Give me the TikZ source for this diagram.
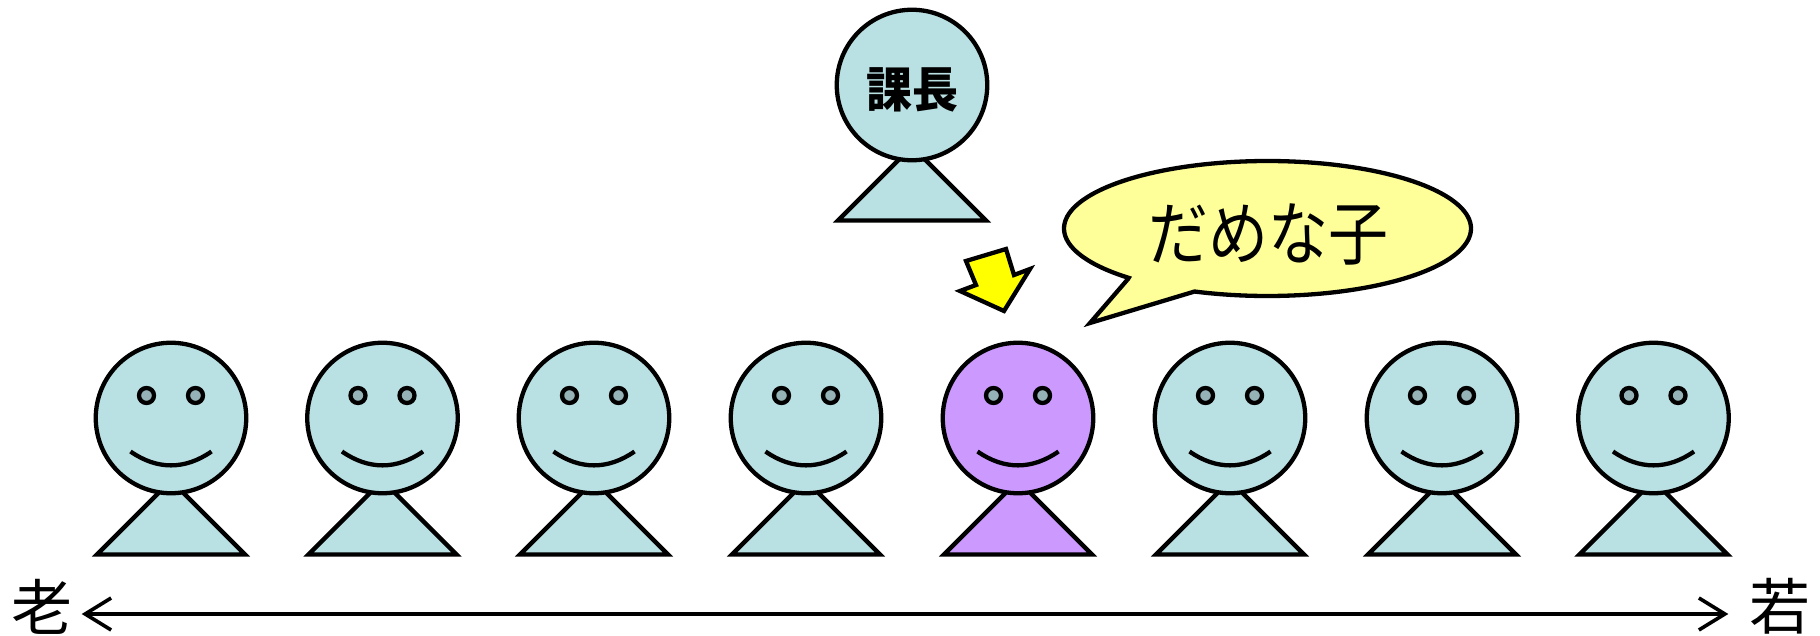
\documentclass[tikz,border=0pt]{standalone}
\usepackage{fontspec}
\setmainfont{Noto Sans CJK JP}[BoldFont={Noto Sans CJK JP Black}]
\usetikzlibrary{arrows.meta}
\definecolor{skin}{HTML}{B9E0E3}
\definecolor{skindark}{HTML}{95B3B6}
\definecolor{lila}{HTML}{CC99FF}
\definecolor{balloon}{HTML}{FFFF99}
\definecolor{pointer}{HTML}{FFFF00}
\tikzset{
  ink/.style={draw=black,line width=4.3pt,line join=miter},
  headshape/.style={ink,circle,minimum size=150.5pt,inner sep=0pt,outer sep=0pt},
  eyeshape/.style={ink,circle,minimum size=15pt,inner sep=0pt,fill=skindark},
  bigtext/.style={font=\fontsize{61}{61}\selectfont,inner sep=0pt},
  timeline/.style={draw=black,line width=3.6pt,{Straight Barb[length=26pt,width=32pt,line width=3.6pt]}-{Straight Barb[length=26pt,width=32pt,line width=3.6pt]}},
}
\begin{document}
\begin{tikzpicture}[x=1pt,y=-1pt]
\useasboundingbox (0,0) rectangle (1820,636);
% row of staff
\foreach \n/\cx/\col in {1/171/skin,2/382.5/skin,3/594/skin,4/806/skin,5/1018/lila,6/1230/skin,7/1442/skin,8/1653.5/skin}{
  \path[ink,fill=\col] (\cx-74,554.5) -- (\cx,480.5) -- (\cx+74,554.5) -- cycle;
  \node[headshape,fill=\col] (head\n) at (\cx,418) {};
  \node[eyeshape] (eyel\n) at (\cx-24.5,395.5) {};
  \node[eyeshape] (eyer\n) at (\cx+24.5,395.5) {};
  \draw[black,line width=4.3pt] (\cx-40.5,451.5) .. controls (\cx-14,470) and (\cx+14,470) .. (\cx+40.5,451.5);
}
% section chief
\path[ink,fill=skin] (838,220.5) -- (912,146.5) -- (986,220.5) -- cycle;
\node[headshape,fill=skin] (boss) at (912,85) {};
\node[font=\bfseries\fontsize{46}{46}\selectfont,inner sep=0pt] (bosstext) at (912,90) {\scalebox{1}[1.05]{課長}};
% pointer arrow
\path[ink,fill=pointer] (966,261) -- (1006,249) -- (1014,275) -- (1030,269) -- (1004,311) -- (960,291) -- (976,285) -- cycle;
% speech bubble
\path[ink,fill=balloon] (1090,323) -- (1128,279)
  -- plot[domain=133:471,samples=160,variable=\t] ({1267.5+203.5*cos(\t)},{228.5+67.5*sin(\t)})
  -- cycle;
\node[font=\fontsize{60}{60}\selectfont,inner sep=0pt] (says) at (1268,234) {\scalebox{1}[1.16]{だめな子}};
% age axis
\node[bigtext] (old) at (42,606.5) {老};
\node[bigtext] (young) at (1780,606.5) {若};
\draw[timeline,shorten <=9pt,shorten >=21pt] (old.east |- 0,614) -- (young.west |- 0,614);
\end{tikzpicture}
\end{document}
